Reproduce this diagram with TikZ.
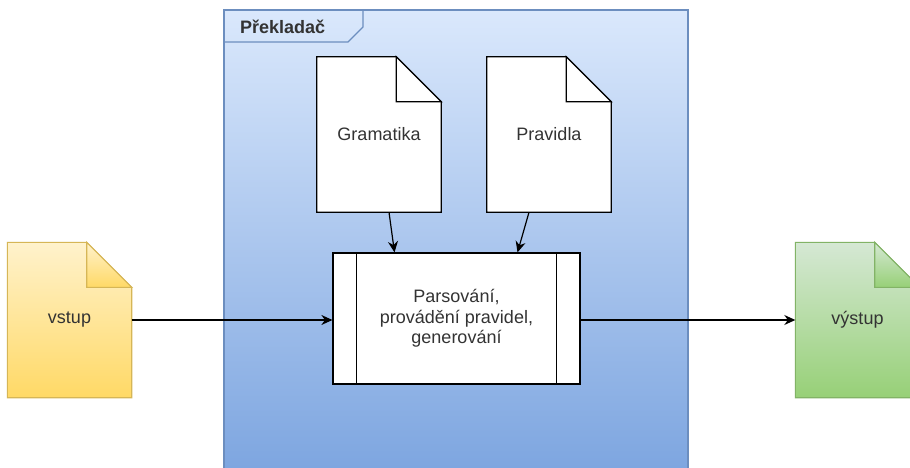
\documentclass[tikz,border=0pt]{standalone}
\usepackage{fontspec}
\setmainfont{Liberation Sans}
\usetikzlibrary{arrows.meta}
\definecolor{frameTop}{HTML}{DAE8FC}
\definecolor{frameBot}{HTML}{7EA6E0}
\definecolor{frameLine}{HTML}{6C8EBF}
\definecolor{inTop}{HTML}{FFF2CC}
\definecolor{inBot}{HTML}{FFD966}
\definecolor{inLine}{HTML}{D6B656}
\definecolor{outTop}{HTML}{D5E8D4}
\definecolor{outBot}{HTML}{97D077}
\definecolor{outLine}{HTML}{82B366}
\definecolor{txt}{HTML}{333333}
\tikzset{
  docbox/.style={rectangle, minimum width=124pt, minimum height=155pt, inner sep=0pt},
  doctext/.style={font=\fontsize{18}{21}\selectfont, text=txt},
  procbox/.style={rectangle, draw=black, line width=1.2pt, fill=white, minimum width=247pt, minimum height=131pt, inner sep=0pt, align=center, font=\fontsize{18}{20.5}\selectfont, text=txt},
  conn/.style={line width=1.2pt, -{Stealth[length=11pt,width=10pt]}},
  whitedoc/.style={draw=black, line width=1.2pt, fill=white},
  yellowdoc/.style={draw=inLine, line width=1.1pt, top color=inTop, bottom color=inBot},
  greendoc/.style={draw=outLine, line width=1.1pt, top color=outTop, bottom color=outBot},
}
\newcommand\docoutline[2]{%
  \path[#2] (#1.north west) -- ([xshift=-45pt]#1.north east) -- ([yshift=-45pt]#1.north east) -- (#1.south east) -- (#1.south west) -- cycle;
  \path[#2] ([xshift=-45pt]#1.north east) -- ([xshift=-45pt,yshift=-45pt]#1.north east) -- ([yshift=-45pt]#1.north east) -- cycle;
}
\begin{document}
\begin{tikzpicture}[x=1pt,y=-1pt]
\clip (0,0) rectangle (910,468);
\fill[white] (0,0) rectangle (910,468);
% frame
\shade[top color=frameTop, bottom color=frameBot] (224,10) rectangle (688,468);
\draw[frameLine, line width=1.1pt] (224,468) -- (224,10) -- (688,10) -- (688,468);
\coordinate (tabA) at (224,42);
\coordinate (tabB) at (348,42);
\coordinate (tabC) at (363,27);
\coordinate (tabD) at (363,10);
\draw[frameLine, line width=1.1pt] (tabA) -- (tabB) -- (tabC) -- (tabD);
\node[anchor=west, inner sep=0pt, font=\bfseries\fontsize{18}{21}\selectfont, text=txt] (title) at (240,26.5) {Překladač};
% documents
\node[docbox] (gram) at (379,134.5) {};
\docoutline{gram}{whitedoc}
\node[doctext] at (gram.center) {Gramatika};
\node[docbox] (prav) at (549,134.5) {};
\docoutline{prav}{whitedoc}
\node[doctext] at (prav.center) {Pravidla};
\node[docbox] (vstup) at (69.5,320) {};
\docoutline{vstup}{yellowdoc}
\node[doctext] at (vstup.center) {vstup};
\node[docbox] (vystup) at (857.5,320) {};
\docoutline{vystup}{greendoc}
\node[doctext] at (vystup.center) {výstup};
% process
\node[procbox] (proc) at (456.5,318.5) {Parsování,\\provádění pravidel,\\generování};
\draw[line width=1.2pt] ([xshift=24pt]proc.north west) -- ([xshift=24pt]proc.south west);
\draw[line width=1.2pt] ([xshift=-24pt]proc.north east) -- ([xshift=-24pt]proc.south east);
% connectors
\draw[conn] ([xshift=10pt]gram.south) -- ([xshift=-62pt]proc.north);
\draw[conn] ([xshift=-20pt]prav.south) -- ([xshift=61pt]proc.north);
\draw[conn] (vstup.east |- 0,320) -- (proc.west |- 0,320);
\draw[conn] (proc.east |- 0,320) -- (vystup.west |- 0,320);
\end{tikzpicture}
\end{document}
